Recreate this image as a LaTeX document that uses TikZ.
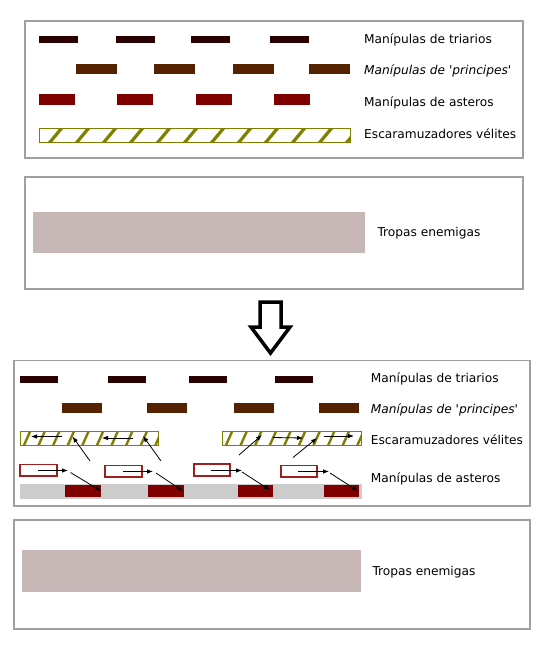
\documentclass[tikz,border=0pt]{standalone}
\usepackage{fontspec}
\setmainfont{DejaVu Sans}
\usetikzlibrary{arrows.meta}
\definecolor{triar}{HTML}{2B0000}
\definecolor{princ}{HTML}{552200}
\definecolor{aster}{HTML}{800000}
\definecolor{hollowc}{HTML}{A02020}
\definecolor{enemy}{HTML}{C8B7B7}
\definecolor{strip}{HTML}{CCCCCC}
\definecolor{panelc}{HTML}{A0A0A0}
\definecolor{olivec}{HTML}{808000}
\newcommand\hatchbar[7]{%
  \fill[white] (#1,#2) rectangle (#3,#4);
  \begin{scope}
    \clip (#1,#2) rectangle (#3,#4);
    \pgfmathsetmacro\hbA{#5}
    \pgfmathsetmacro\hbB{#5+#6}
    \foreach \xx in {\hbA,\hbB,...,#3} \draw[hatchline] (\xx,#4+2) -- ++(#7,#2-#4-4);
  \end{scope}
  \draw[olivec, line width=1pt] (#1,#2) rectangle (#3,#4);}
\newcommand\movearrow[5]{%
  \coordinate (#1s) at (#2);
  \coordinate (#1e) at (#3);
  \draw[movearr] (#1s) -- (#1e);}
\begin{document}
\begin{tikzpicture}[x=1pt,y=-1pt,
  panel/.style={draw=panelc, line width=1.2pt},
  lbl/.style={anchor=base west, inner sep=0pt, font=\fontsize{12.2}{15}\selectfont},
  hatchline/.style={draw=olivec, line width=3.2pt},
  movearr/.style={draw=black, line width=0.8pt, -{Latex[length=6pt,width=4.5pt]}},
  hollow/.style={draw=hollowc, line width=1.2pt, fill=white}]
\useasboundingbox (0,0) rectangle (556,654);
\fill[white] (0,0) rectangle (556,654);

% ---------- top panel ----------
\draw[panel] (25,21) rectangle (523,158);
\foreach \a/\b in {39/78,116/155,191/230,270/309} \fill[triar] (\a,36) rectangle (\b,43);
\foreach \a/\b in {76/117,154/195,233/274,309/350} \fill[princ] (\a,63.5) rectangle (\b,73.5);
\foreach \a/\b in {39/75,117/153,196/232,274/310} \fill[aster] (\a,93.5) rectangle (\b,105);
\hatchbar{39}{128.5}{350}{142.5}{21}{27}{15}
\node[lbl] (l1) at (364,43.3) {Manípulas de triarios};
\node[lbl] (l2) at (364,74.8) {\itshape Manípulas de \textquotesingle principes\textquotesingle};
\node[lbl] (l3) at (364,106) {Manípulas de asteros};
\node[lbl] (l4) at (364,138) {Escaramuzadores vélites};

% ---------- enemy panel ----------
\draw[panel] (25,177) rectangle (523,289);
\fill[enemy] (33,212) rectangle (365,253);
\node[lbl] (l5) at (377.3,236.7) {Tropas enemigas};

% ---------- big arrow ----------
\draw[black, line width=3.5pt, line join=miter]
  (260,302) -- (281,302) -- (281,327) -- (290,327) -- (270.5,353) -- (251,327) -- (260,327) -- cycle;

% ---------- bottom panel ----------
\draw[panel] (14,360.5) rectangle (530,506);
\foreach \a/\b in {20/58,108/146,189/227,275/313} \fill[triar] (\a,375.5) rectangle (\b,382.5);
\foreach \a/\b in {62/102,147/187,234/274,319/359} \fill[princ] (\a,402.5) rectangle (\b,412.5);
\begin{scope}[hatchline/.style={draw=olivec, line width=2.4pt}]
\hatchbar{20}{431.5}{158}{445.5}{23}{14.6}{8}
\hatchbar{222}{431.5}{361}{445.5}{225}{14.6}{8}
\end{scope}
\fill[strip] (20,483.5) rectangle (362,498.5);
\foreach \a/\b in {65/101,148/184,238/273,324/359} \fill[aster] (\a,485) rectangle (\b,497);
\draw[hollow] (20,464.5) rectangle (57,476);
\draw[hollow] (105,465.5) rectangle (142,477);
\draw[hollow] (194,464) rectangle (230,476);
\draw[hollow] (281,465.5) rectangle (317,477);

\movearrow{h1}{38,470.5}{68,470.5}{}{}
\movearrow{h2}{123,471.5}{153,471.5}{}{}
\movearrow{h3}{211,470.5}{242,470.5}{}{}
\movearrow{h4}{298,471.5}{329,471.5}{}{}
\movearrow{d1}{70.5,472.5}{101,491}{}{}
\movearrow{d2}{156,473}{183,491}{}{}
\movearrow{d3}{242,472}{270,490}{}{}
\movearrow{d4}{330,473}{358,491}{}{}
\movearrow{v1}{62,436.5}{31,436.5}{}{}
\movearrow{v2}{133,438}{102,438}{}{}
\movearrow{v3}{90,461}{72.5,436.5}{}{}
\movearrow{v4}{161,461}{143,436}{}{}
\movearrow{v5}{273,437.5}{303,438}{}{}
\movearrow{v6}{324,436}{354,436}{}{}
\movearrow{v7}{239,455}{262,435}{}{}
\movearrow{v8}{293,457.5}{317,438}{}{}

\node[lbl] (m1) at (370.7,382.3) {Manípulas de triarios};
\node[lbl] (m2) at (370.7,413.3) {\itshape Manípulas de \textquotesingle principes\textquotesingle};
\node[lbl] (m3) at (370.7,444) {Escaramuzadores vélites};
\node[lbl] (m4) at (370.7,482.5) {Manípulas de asteros};

% ---------- bottom enemy panel ----------
\draw[panel] (14,520) rectangle (530,629);
\fill[enemy] (22,550) rectangle (361,592);
\node[lbl] (m5) at (372.3,575.7) {Tropas enemigas};
\end{tikzpicture}
\end{document}
